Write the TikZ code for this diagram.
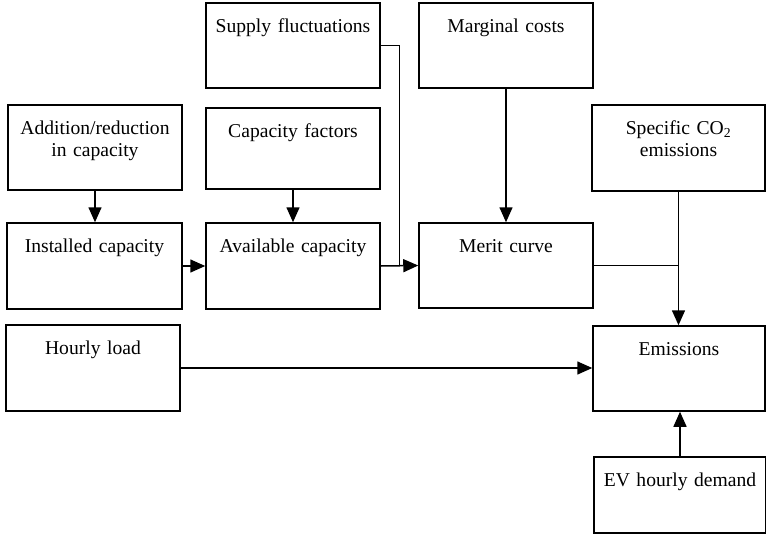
\documentclass[tikz,border=0pt]{standalone}
\usepackage{fontspec}
\setmainfont{Liberation Serif}
\usepackage{tikz}
\usetikzlibrary{positioning,calc,arrows.meta}

\begin{document}
\begin{tikzpicture}[x=1pt, y=-1pt,
    block/.style={draw, line width=1.5pt, inner sep=0pt, text width=174pt, align=center,
        font=\fontsize{19.6pt}{22.5pt}\selectfont, text height=29pt, text depth=#1},
    link/.style={line width=1.5pt},
    arr/.style={line width=1.5pt, -{Triangle[length=15pt,width=13pt]}}]
    \useasboundingbox (0,0) rectangle (766,544);

    % Top row
    \node[block=56pt] (supply) at (293,45.5) {Supply fluctuations};
    \node[block=56pt] (marginal) at (506,45.5) {Marginal costs};

    % Second row
    \node[block=56pt] (addition) at (95,147.5) {Addition/reduction\\ in capacity};
    \node[block=52pt] (factors) at (293,148.5) {Capacity factors};
    \node[block=57pt, text width=173pt] (specific) at (678.5,148) {Specific CO\textsubscript{2}\\ emissions};

    % Capacity row
    \node[block=57pt, text width=175pt] (installed) at (94.5,266) {Installed capacity};
    \node[block=57pt] (available) at (293,266) {Available capacity};
    \node[block=56pt] (merit) at (506,265.5) {Merit curve};

    % Load and emissions
    \node[block=57pt] (hourly) at (93,368) {Hourly load};
    \node[block=56pt, text width=172pt] (emissions) at (679,368.5) {Emissions};
    \node[block=47pt, text width=172pt] (evdemand) at (680,495) {EV hourly demand};

    % Join points
    \coordinate (join) at ($(available.east)!.5!(merit.west)$);
    \coordinate (tee) at (specific.south |- merit.east);

    % Connections
    \draw[arr] (addition.south) -- (addition.south |- installed.north);
    \draw[arr] (factors.south) -- (factors.south |- available.north);
    \draw[arr] (installed.east) -- (available.west);
    \draw[arr] (available.east) -- (merit.west);
    \draw[link] (supply.east) -| (join);
    \draw[arr] (marginal.south) -- (marginal.south |- merit.north);
    \draw[link] (merit.east) -- (tee);
    \draw[arr] (specific.south) -- (specific.south |- emissions.north);
    \draw[arr] (hourly.east) -- (hourly.east -| emissions.west);
    \draw[arr] (evdemand.north) -- (evdemand.north |- emissions.south);

\end{tikzpicture}
\end{document}
